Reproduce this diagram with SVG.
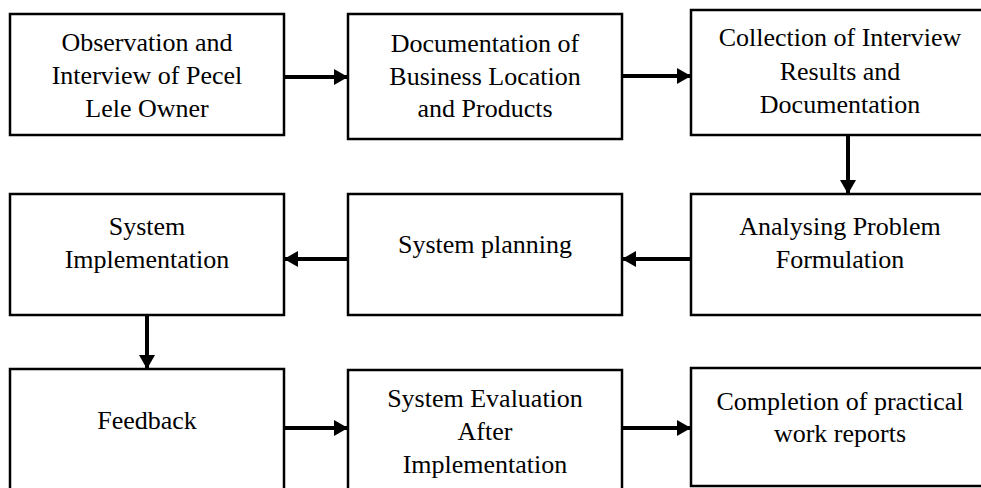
<svg xmlns="http://www.w3.org/2000/svg" width="981" height="488" viewBox="0 0 981 488">
<style>
.box{fill:#fff;stroke:#000;stroke-width:2.5}
.t{font-size:26px;fill:#000;text-anchor:middle}
.c{stroke:#000;stroke-width:4;fill:none}
</style>
<defs>
<marker id="ah" markerUnits="userSpaceOnUse" markerWidth="16" markerHeight="16" viewBox="0 0 14 16" refX="14" refY="8" orient="auto">
<path d="M0,0 L14,8 L0,16 Z" fill="#000"/>
</marker>
</defs>
<rect width="981" height="488" fill="#fff"/>
<g font-family="'Liberation Serif', 'Times New Roman', 'DejaVu Serif', serif">
<g id="n1"><rect class="box" x="10" y="14" width="274" height="121"/>
<text class="t" x="147" y="51">Observation and</text>
<text class="t" x="147" y="84">Interview of Pecel</text>
<text class="t" x="147" y="117">Lele Owner</text></g>
<g id="n2"><rect class="box" x="348" y="14" width="274" height="125"/>
<text class="t" x="485" y="52">Documentation of</text>
<text class="t" x="485" y="85">Business Location</text>
<text class="t" x="485" y="117">and Products</text></g>
<g id="n3"><rect class="box" x="691" y="10" width="300" height="125"/>
<text class="t" x="840" y="46">Collection of Interview</text>
<text class="t" x="840" y="80">Results and</text>
<text class="t" x="840" y="113">Documentation</text></g>
<g id="n4"><rect class="box" x="10" y="194" width="274" height="121"/>
<text class="t" x="147" y="235">System</text>
<text class="t" x="147" y="268">Implementation</text></g>
<g id="n5"><rect class="box" x="348" y="194" width="274" height="121"/>
<text class="t" x="485" y="253">System planning</text></g>
<g id="n6"><rect class="box" x="691" y="194" width="300" height="121"/>
<text class="t" x="840" y="235">Analysing Problem</text>
<text class="t" x="840" y="268">Formulation</text></g>
<g id="n7"><rect class="box" x="10" y="369" width="274" height="130"/>
<text class="t" x="147" y="429">Feedback</text></g>
<g id="n8"><rect class="box" x="348" y="370" width="274" height="130"/>
<text class="t" x="485" y="407">System Evaluation</text>
<text class="t" x="485" y="440">After</text>
<text class="t" x="485" y="473">Implementation</text></g>
<g id="n9"><rect class="box" x="691" y="368" width="300" height="118"/>
<text class="t" x="840" y="410">Completion of practical</text>
<text class="t" x="840" y="442">work reports</text></g>
</g>
<g id="connectors">
<line class="c" x1="284" y1="77" x2="348" y2="77" marker-end="url(#ah)"/>
<line class="c" x1="622" y1="76" x2="691" y2="76" marker-end="url(#ah)"/>
<line class="c" x1="848" y1="135" x2="848" y2="194" marker-end="url(#ah)"/>
<line class="c" x1="691" y1="259" x2="622" y2="259" marker-end="url(#ah)"/>
<line class="c" x1="348" y1="259" x2="284" y2="259" marker-end="url(#ah)"/>
<line class="c" x1="147" y1="315" x2="147" y2="369" marker-end="url(#ah)"/>
<line class="c" x1="284" y1="428" x2="348" y2="428" marker-end="url(#ah)"/>
<line class="c" x1="622" y1="428" x2="691" y2="428" marker-end="url(#ah)"/>
</g>
</svg>
